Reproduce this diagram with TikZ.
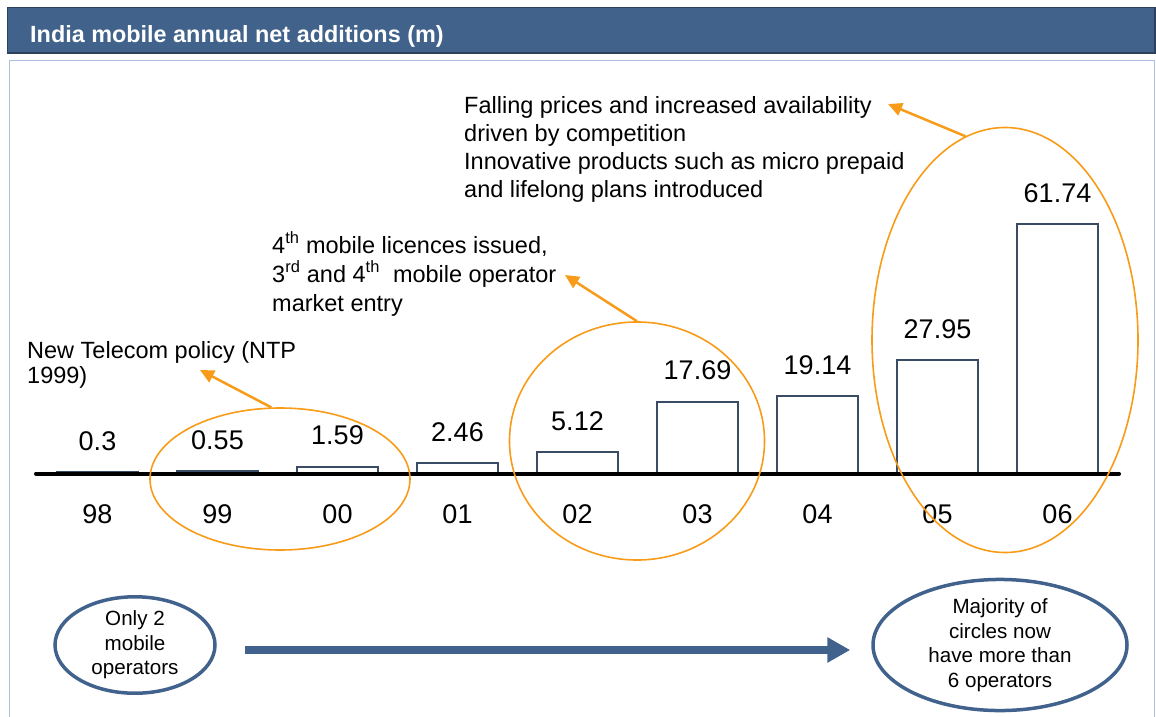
\documentclass[tikz,border=0pt]{standalone}
\usepackage{fontspec}
\setmainfont{Liberation Sans}
\usetikzlibrary{shapes.geometric,arrows.meta}
\definecolor{hdrfill}{RGB}{65,98,138}
\definecolor{hdrline}{RGB}{45,65,90}
\definecolor{framecol}{RGB}{170,192,222}
\definecolor{accent}{RGB}{247,155,25}
\definecolor{opblue}{RGB}{64,98,140}
\definecolor{baredge}{RGB}{58,76,100}
\begin{document}
\begin{tikzpicture}[x=1pt,y=-1pt,
  title/.style={anchor=base west,inner sep=0,text=white,font=\bfseries\fontsize{23.4}{27}\selectfont},
  barline/.style={draw=baredge,line width=2pt,fill=white},
  val/.style={font=\fontsize{27}{30}\selectfont,inner sep=0},
  yrlab/.style={font=\fontsize{27}{30}\selectfont,inner sep=0},
  note/.style={anchor=base west,align=left,inner sep=0},
  ring/.style={ellipse,draw=accent,line width=1.6pt,inner sep=0},
  callout/.style={draw=accent,line width=2.5pt,-{Triangle[length=14pt,width=13pt]}},
  opring/.style={ellipse,draw=opblue,line width=3.5pt,inner sep=0,align=center,
    font=\fontsize{20.6}{24.5}\selectfont},
  trend/.style={draw=opblue,line width=8pt,-{Triangle[length=23pt,width=24pt]}}]
\useasboundingbox (0,0) rectangle (1156,717);

% title bar
\fill[hdrfill] (7.5,7.5) rectangle (1155,53);
\draw[hdrline,line width=1.5pt] (7.5,7.5) rectangle (1155,53);
\node[title] (title) at (30,43) {India mobile annual net additions (m)};

% content frame, open at the bottom
\draw[framecol,line width=1.5pt] (9.5,720) -- (9.5,60.5) -- (1154.5,60.5) -- (1154.5,720);

% bars, values and year labels
\foreach \yr/\v [count=\i from 0] in {98/0.3,99/0.55,00/1.59,01/2.46,02/5.12,03/17.69,04/19.14,05/27.95,06/61.74}{
  \pgfmathsetmacro\bx{57+120*\i}
  \pgfmathsetmacro\bt{473-4.033*\v}
  \draw[barline] (\bx,473) rectangle (\bx+81,\bt);
  \node[val] (val\yr) at (\bx+40.5,\bt-31) {\v};
  \node[yrlab] (yr\yr) at (\bx+40.5,514) {\yr};
}

% axis
\draw[black,line width=4pt,line cap=round] (36,473.5) -- (1119,473.5);

% highlighted periods
\node[ring,minimum width=260pt,minimum height=142pt] (e1) at (280,479) {};
\node[ring,minimum width=255pt,minimum height=238pt] (e2) at (637,441) {};
\node[ring,minimum width=266pt,minimum height=425pt] (e3) at (1005,340) {};

% annotations (anchored at the baseline of their last line)
\node[note,font=\fontsize{23.5}{25}\selectfont] (n1) at (27,383)
  {New Telecom policy (NTP\\1999)};
\node[note,font=\fontsize{23.5}{29}\selectfont] (n2) at (272,311)
  {4\textsuperscript{th} mobile licences issued,\\3\textsuperscript{rd} and 4\textsuperscript{th}\ \ mobile operator\\market entry};
\node[note,font=\fontsize{23.5}{27.7}\selectfont] (n3) at (464,197)
  {Falling prices and increased availability\\driven by competition\\Innovative products such as micro prepaid\\and lifelong plans introduced};

\coordinate (t1) at (200,370);
\coordinate (t2) at (565,275);
\coordinate (t3) at (888,104);
\draw[callout] (e1.97) -- (t1);
\draw[callout] (e2.north) -- (t2);
\draw[callout] (e3.101) -- (t3);

% operator count, then and now
\node[opring,minimum width=160pt,minimum height=96pt] (b1) at (135,645) {Only 2\\mobile\\operators};
\node[opring,minimum width=254pt,minimum height=116pt] (b2) at (1000,645) {Majority of\\circles now\\have more than\\6 operators};
\draw[trend,shorten <=28pt,shorten >=21pt] ([yshift=-5pt]b1.east) -- ([yshift=-5pt]b2.west);
\end{tikzpicture}
\end{document}
